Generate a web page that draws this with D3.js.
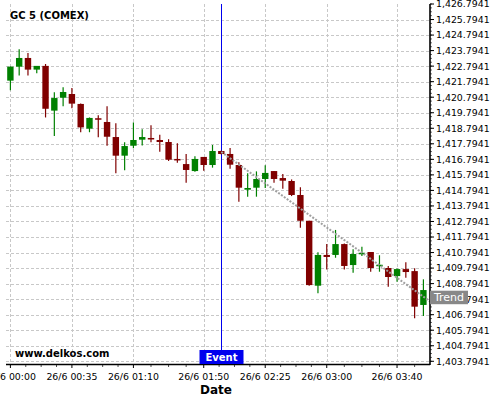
<!DOCTYPE html>
<html>
<head>
<meta charset="utf-8">
<script src="https://cdn.jsdelivr.net/npm/d3@7"></script>
<style>
  body { margin: 0; background: #fff; }
  text { font-family: "DejaVu Sans", sans-serif; }
</style>
</head>
<body>
<div id="chart"></div>
<script>
var w = 500,
    h = 400;

// 5 minute bars, 26/6
var times = ["00:00","00:05","00:10","00:15","00:20","00:25","00:30","00:35","00:40","00:45","00:50","00:55",
             "01:00","01:05","01:10","01:15","01:20","01:25","01:30","01:35","01:40","01:45","01:50","01:55",
             "02:00","02:05","02:10","02:15","02:20","02:25","02:30","02:35","02:40","02:45","02:50","02:55",
             "03:00","03:05","03:10","03:15","03:20","03:25","03:30","03:35","03:40","03:45","03:50","03:55"];
var open  = [1421.86,1422.76,1423.32,1422.57,1422.81,1419.93,1420.76,1421.00,1420.36,1418.77,1419.44,1419.20,
             1418.23,1417.03,1417.67,1418.06,1418.17,1418.04,1417.91,1416.82,1416.49,1416.04,1416.95,1416.43,
             1417.33,1417.14,1416.43,1414.84,1414.97,1415.53,1416.04,1415.59,1415.40,1414.50,1412.84,1408.66,
             1410.64,1410.64,1411.34,1409.99,1410.70,1410.83,1409.93,1409.80,1409.28,1409.73,1409.60,1407.42];
var high  = [1422.77,1423.88,1423.64,1422.81,1422.93,1421.11,1421.43,1421.39,1420.39,1419.49,1419.63,1420.21,
             1419.12,1417.89,1419.17,1418.73,1418.99,1418.38,1418.09,1417.83,1417.14,1416.99,1416.95,1417.72,
             1417.36,1417.53,1416.60,1415.90,1416.02,1416.41,1416.04,1415.85,1415.50,1414.99,1412.84,1410.81,
             1411.34,1412.25,1411.37,1411.00,1411.17,1410.83,1410.62,1409.93,1409.76,1410.17,1409.78,1409.07];
var low   = [1421.24,1422.19,1422.19,1422.33,1419.49,1418.30,1420.21,1420.08,1418.54,1418.54,1418.21,1417.67,
             1415.90,1416.09,1417.51,1417.69,1417.89,1417.29,1416.69,1416.58,1415.29,1416.00,1416.06,1416.26,
             1417.11,1416.19,1414.07,1414.39,1414.39,1414.95,1415.29,1414.90,1414.43,1412.39,1408.66,1408.17,
             1409.71,1410.46,1409.71,1409.50,1410.57,1409.56,1409.56,1408.59,1408.92,1409.17,1406.56,1406.71];
var close = [1422.76,1423.32,1422.57,1422.81,1420.05,1420.74,1421.13,1420.38,1418.85,1419.46,1419.35,1418.25,
             1417.03,1417.65,1418.04,1418.23,1418.12,1417.91,1416.77,1416.75,1416.11,1416.82,1416.43,1417.33,
             1417.14,1416.45,1414.97,1414.95,1415.53,1415.92,1415.53,1415.42,1414.50,1412.84,1408.70,1410.64,
             1410.51,1411.34,1409.93,1410.70,1410.78,1409.80,1410.01,1409.22,1409.73,1409.54,1407.31,1408.38];

var xTickLabels = ["00:00","00:35","01:10","01:50","02:25","03:00","03:40"];
var yTickValues = d3.range(1403.7941, 1426.8, 1);
var eventTime = "02:00";
var trendTimes = ["02:00","03:59"];
var trendValues = [1417.27, 1407.63];

var parseTime = function(s) {
    var p = s.split(":");
    return new Date(2024, 5, 26, +p[0], +p[1]);
};

var data = times.map(function(t, i) {
    return { date: parseTime(t), o: open[i], h: high[i], l: low[i], c: close[i] };
});

var plotL = 6, plotR = 430, plotT = 4, plotB = 364;

var x = d3.scaleTime()
    .domain([new Date(2024, 5, 25, 23, 57, 30), new Date(2024, 5, 26, 3, 58, 45)])
    .range([plotL, plotR]);
var y = d3.scaleLinear()
    .domain([1403.62, 1426.7941])
    .range([plotB, plotT]);

var svg = d3.select("#chart").append("svg")
    .attr("width", w)
    .attr("height", h);

// grid
var xTicks = xTickLabels.map(parseTime);
svg.append("g").selectAll("line")
    .data(yTickValues.filter(function(v) { return y(v) > plotT + 2; }))
    .enter().append("line")
    .attr("x1", plotL).attr("x2", plotR)
    .attr("y1", function(d) { return Math.round(y(d)) + 0.5; })
    .attr("y2", function(d) { return Math.round(y(d)) + 0.5; })
    .attr("stroke", "#c8c8c8")
    .attr("stroke-dasharray", "3,2");
svg.append("g").selectAll("line")
    .data(xTicks)
    .enter().append("line")
    .attr("x1", function(d) { return Math.round(x(d)) + 0.5; })
    .attr("x2", function(d) { return Math.round(x(d)) + 0.5; })
    .attr("y1", plotT).attr("y2", plotB)
    .attr("stroke", "#c8c8c8")
    .attr("stroke-dasharray", "3,2");

// title + watermark
svg.append("text")
    .attr("x", 10).attr("y", 19)
    .style("font-size", "10px").style("font-weight", "bold")
    .text("GC 5 (COMEX)");
svg.append("text")
    .attr("x", 15).attr("y", 357)
    .style("font-size", "10px").style("font-weight", "bold")
    .text("www.delkos.com");

// event line
var ex = Math.round(x(parseTime(eventTime))) + 0.5;
svg.append("line")
    .attr("x1", ex).attr("x2", ex)
    .attr("y1", plotT).attr("y2", 350)
    .attr("stroke", "#0000ee")
    .attr("stroke-width", 1);

// candles
var bw = 6.4;
var candles = svg.append("g").selectAll("g")
    .data(data)
    .enter().append("g");
candles.append("line")
    .attr("x1", function(d) { return x(d.date); })
    .attr("x2", function(d) { return x(d.date); })
    .attr("y1", function(d) { return y(d.h); })
    .attr("y2", function(d) { return y(d.l); })
    .attr("stroke", function(d) { return d.c >= d.o ? "#008000" : "#800000"; })
    .attr("stroke-width", 1.2);
candles.append("rect")
    .attr("x", function(d) { return x(d.date) - bw / 2; })
    .attr("width", bw)
    .attr("y", function(d) { return y(Math.max(d.o, d.c)); })
    .attr("height", function(d) { return Math.max(1.5, Math.abs(y(d.o) - y(d.c))); })
    .attr("fill", function(d) { return d.c >= d.o ? "#008000" : "#800000"; });

// trend line
var trend = trendTimes.map(function(t, i) { return [parseTime(t), trendValues[i]]; });
svg.append("path")
    .datum(trend)
    .attr("d", d3.line().x(function(d) { return x(d[0]); }).y(function(d) { return y(d[1]); }))
    .attr("fill", "none")
    .attr("stroke", "#a0a0a0")
    .attr("stroke-width", 2)
    .attr("stroke-dasharray", "2,1.5");

// y axis (right)
var yAxis = svg.append("g")
    .attr("transform", "translate(" + plotR + ",0)");
yAxis.selectAll(".minor")
    .data(d3.range(1403.7941 - 0.25, 1426.8, 0.25).filter(function(v) { return v > y.domain()[0]; }))
    .enter().append("line")
    .attr("x1", 0).attr("x2", 2)
    .attr("y1", function(d) { return y(d); }).attr("y2", function(d) { return y(d); })
    .attr("stroke", "#000").attr("stroke-width", 0.6);
yAxis.selectAll(".major")
    .data(yTickValues)
    .enter().append("line")
    .attr("x1", 0).attr("x2", 4)
    .attr("y1", function(d) { return y(d); }).attr("y2", function(d) { return y(d); })
    .attr("stroke", "#000");
yAxis.selectAll("text")
    .data(yTickValues)
    .enter().append("text")
    .attr("x", 6)
    .attr("y", function(d) { return y(d); })
    .attr("dy", "0.36em")
    .style("font-size", "9.4px")
    .text(d3.format(",.4f"));
svg.append("line")
    .attr("x1", plotR).attr("x2", plotR)
    .attr("y1", plotT).attr("y2", plotB + 1)
    .attr("stroke", "#000").attr("stroke-width", 1.6);

// x axis
var xAxis = svg.append("g")
    .attr("transform", "translate(0," + plotB + ")");
var minor = [];
for (var i = 0; i < xTicks.length; i++) {
    var a = xTicks[i], b = xTicks[i + 1];
    if (!b) b = new Date(+a + (+a - xTicks[i - 1]));
    for (var k = 1; k < 4; k++) minor.push(new Date(+a + (b - a) * k / 4));
}
xAxis.selectAll(".minor")
    .data(minor.filter(function(d) { return x(d) < plotR; }))
    .enter().append("line")
    .attr("x1", function(d) { return x(d); }).attr("x2", function(d) { return x(d); })
    .attr("y1", 0).attr("y2", 3)
    .attr("stroke", "#000").attr("stroke-width", 0.7);
xAxis.selectAll(".major")
    .data(xTicks)
    .enter().append("line")
    .attr("x1", function(d) { return x(d); }).attr("x2", function(d) { return x(d); })
    .attr("y1", 0).attr("y2", 4)
    .attr("stroke", "#000");
xAxis.selectAll("text")
    .data(xTicks)
    .enter().append("text")
    .attr("x", function(d) { return x(d); })
    .attr("y", 15.5)
    .attr("text-anchor", "middle")
    .style("font-size", "9.4px")
    .text(function(d, i) { return "26/6 " + xTickLabels[i]; });
svg.append("line")
    .attr("x1", plotL).attr("x2", plotR)
    .attr("y1", plotB + 0.5).attr("y2", plotB + 0.5)
    .attr("stroke", "#000").attr("stroke-width", 1.4);

svg.append("text")
    .attr("x", 216).attr("y", 394)
    .attr("text-anchor", "middle")
    .style("font-size", "12px").style("font-weight", "bold")
    .text("Date");

// event label
svg.append("rect")
    .attr("x", ex - 22).attr("y", 350)
    .attr("width", 44).attr("height", 14)
    .attr("fill", "#0000ee");
svg.append("text")
    .attr("x", ex).attr("y", 361)
    .attr("text-anchor", "middle")
    .attr("fill", "#fff")
    .style("font-size", "10px").style("font-weight", "bold")
    .text("Event");

// trend label
var ty = y(trendValues[1]);
svg.append("rect")
    .attr("x", plotR).attr("y", ty - 11)
    .attr("width", 38).attr("height", 13.5)
    .attr("fill", "#888888");
svg.append("text")
    .attr("x", plotR + 19).attr("y", ty - 0.5)
    .attr("text-anchor", "middle")
    .attr("fill", "#fff")
    .style("font-size", "11px")
    .text("Trend");
</script>
</body>
</html>
